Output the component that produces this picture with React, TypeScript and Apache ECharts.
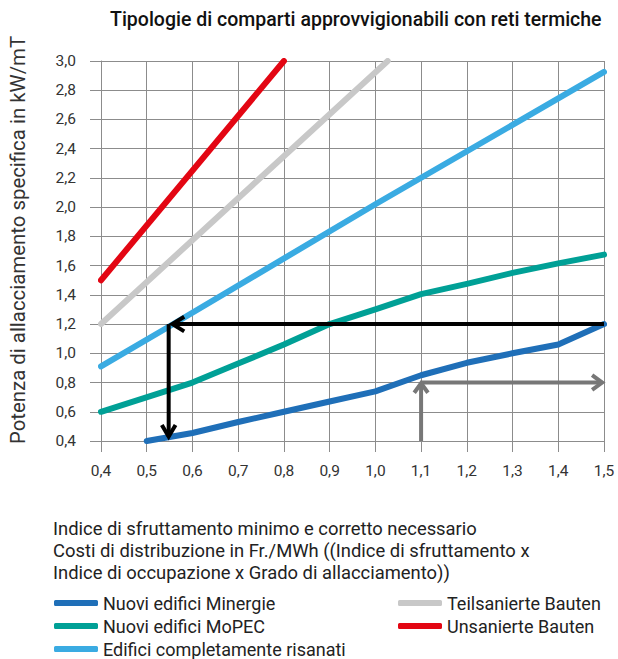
import React, { useEffect, useRef } from "react";
import * as echarts from "echarts";

const titleText = "Tipologie di comparti approvvigionabili con reti termiche";
const yAxisTitle = "Potenza di allacciamento specifica in kW/mT";
const footerLines = [
  "Indice di sfruttamento minimo e corretto necessario",
  "Costi di distribuzione in Fr./MWh ((Indice di sfruttamento x",
  "Indice di occupazione x Grado di allacciamento))",
];

const minergie = [[0.5, 0.4], [0.6, 0.455], [0.7, 0.53], [0.8, 0.6], [0.9, 0.67], [1.0, 0.74], [1.1, 0.85], [1.2, 0.935], [1.3, 1.0], [1.4, 1.06], [1.5, 1.2]];
const mopec = [[0.4, 0.6], [0.6, 0.8], [0.7, 0.93], [0.8, 1.06], [0.9, 1.2], [1.0, 1.3], [1.1, 1.405], [1.2, 1.475], [1.3, 1.55], [1.4, 1.615], [1.5, 1.675]];
const risanati = [[0.4, 0.91], [0.55, 1.185], [1.0, 2.02], [1.5, 2.925]];
const teilsaniert = [[0.4, 1.2], [1.027, 3.0]];
const unsaniert = [[0.4, 1.5], [0.8, 3.0]];

const blackH = [[1.5, 1.2], [0.556, 1.2]];
const blackV = [[0.548, 1.2], [0.548, 0.43]];
const blackHeadL = [[0.582, 1.25], [0.556, 1.2], [0.582, 1.15]];
const blackHeadD = [[0.533, 0.51], [0.548, 0.43], [0.563, 0.51]];
const grayV = [[1.1, 0.4], [1.1, 0.79]];
const grayH = [[1.1, 0.8], [1.496, 0.8]];
const grayHeadU = [[1.085, 0.73], [1.1, 0.795], [1.115, 0.73]];
const grayHeadR = [[1.474, 0.85], [1.496, 0.8], [1.474, 0.75]];

const names = {
  minergie: "Nuovi edifici Minergie",
  mopec: "Nuovi edifici MoPEC",
  risanati: "Edifici completamente risanati",
  teil: "Teilsanierte Bauten",
  unsan: "Unsanierte Bauten",
};

const FONT = "Roboto";

export default function App() {
  const ref = useRef<HTMLDivElement>(null);
  useEffect(() => {
    const chart = echarts.init(ref.current!, null, { renderer: "svg" });
    const mainLine = (name: string, data: number[][], color: string) => ({
      name,
      type: "line",
      data,
      symbol: "none",
      smooth: false,
      z: 3,
      lineStyle: { color, width: 6, cap: "round", join: "round" },
      itemStyle: { color },
    });
    const arrow = (data: number[][], color: string, width: number) => ({
      type: "line",
      data,
      symbol: "none",
      z: 5,
      silent: true,
      lineStyle: { color, width, cap: "butt", join: "miter" },
    });
    const fmt = (v: number) => v.toFixed(1).replace(".", ",");
    const legendText = { fontSize: 18, color: "#222", fontFamily: FONT, lineHeight: 20 };
    const legendBase = {
      orient: "vertical",
      top: 593,
      height: 66,
      padding: 0,
      itemWidth: 44,
      itemHeight: 6,
      itemGap: 3,
      icon: "roundRect",
      selectedMode: false,
      textStyle: legendText,
    };
    chart.setOption({
      animation: false,
      textStyle: { fontFamily: FONT },
      grid: { left: 101, right: 14, top: 61, bottom: 218 },
      xAxis: {
        type: "value",
        min: 0.4,
        max: 1.5,
        interval: 0.1,
        axisLine: { show: true, lineStyle: { color: "#8c8c8c", width: 1 } },
        axisTick: { show: true, length: 11, lineStyle: { color: "#8c8c8c" } },
        splitLine: { show: true, lineStyle: { color: "#8c8c8c", width: 1 } },
        axisLabel: { formatter: fmt, color: "#333", fontSize: 15.5, margin: 22, fontFamily: FONT },
      },
      yAxis: {
        type: "value",
        min: 0.4,
        max: 3.0,
        interval: 0.2,
        axisLine: { show: true, lineStyle: { color: "#8c8c8c", width: 1 } },
        axisTick: { show: true, length: 11, lineStyle: { color: "#8c8c8c" } },
        splitLine: { show: true, lineStyle: { color: "#8c8c8c", width: 1 } },
        axisLabel: { formatter: fmt, color: "#333", fontSize: 15.5, margin: 25, fontFamily: FONT },
      },
      legend: [
        { ...legendBase, data: [names.minergie, names.mopec, names.risanati], left: 54 },
        { ...legendBase, data: [names.teil, names.unsan], left: 398 },
      ],
      graphic: [
        {
          type: "text",
          left: 110,
          top: 9,
          style: { text: titleText, fontSize: 19.5, fontWeight: 500, fill: "#111", fontFamily: FONT },
        },
        {
          type: "text",
          x: 18,
          y: 240,
          rotation: Math.PI / 2,
          style: {
            text: yAxisTitle,
            fontSize: 20.4,
            fill: "#333",
            fontFamily: FONT,
            align: "center",
            verticalAlign: "middle",
          },
        },
        ...footerLines.map((t, i) => ({
          type: "text",
          left: 53,
          top: 519 + i * 22,
          style: { text: t, fontSize: 18.4, fill: "#222", fontFamily: FONT },
        })),
      ],
      series: [
        mainLine(names.unsan, unsaniert, "#e30613"),
        mainLine(names.teil, teilsaniert, "#c8c8c8"),
        mainLine(names.risanati, risanati, "#3aabe2"),
        mainLine(names.mopec, mopec, "#00a096"),
        mainLine(names.minergie, minergie, "#1f6fb8"),
        arrow(blackH, "#000", 4),
        arrow(blackV, "#000", 4),
        arrow(blackHeadL, "#000", 4),
        arrow(blackHeadD, "#000", 4),
        arrow(grayV, "#777", 4),
        arrow(grayH, "#777", 4),
        arrow(grayHeadU, "#777", 4),
        arrow(grayHeadR, "#777", 4),
      ],
    });
    return () => chart.dispose();
  }, []);
  return (
    <div
      ref={ref}
      style={{ position: "absolute", left: 0, top: 0, width: 618, height: 659, overflow: "hidden" }}
    />
  );
}
